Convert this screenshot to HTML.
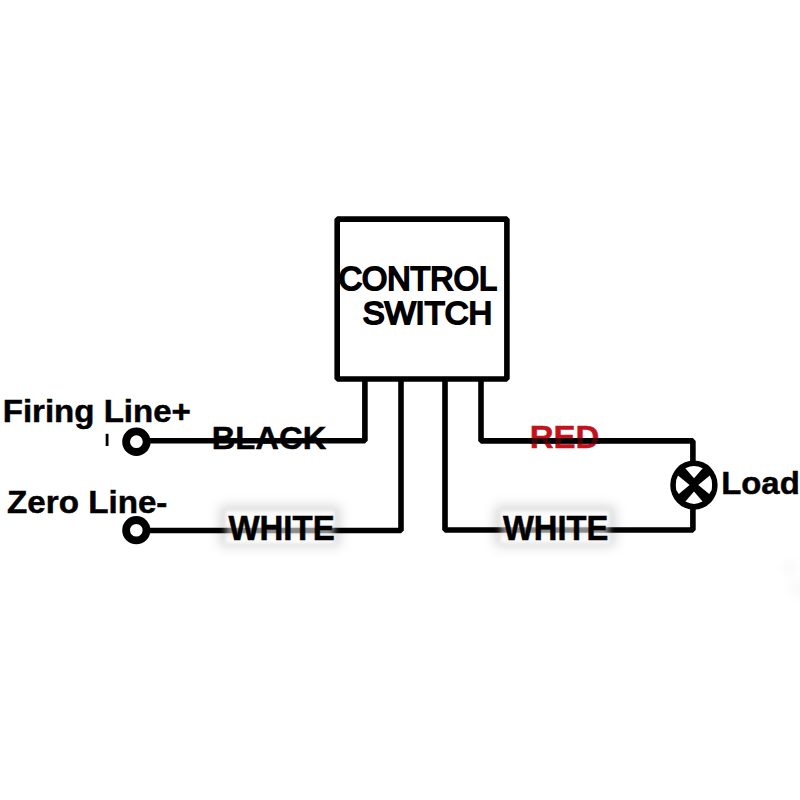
<!DOCTYPE html>
<html>
<head>
<meta charset="utf-8">
<style>
html,body{margin:0;padding:0;background:#fff;width:800px;height:800px;overflow:hidden;}
svg{position:absolute;left:0;top:0;display:block;}
text{font-family:"Liberation Sans",sans-serif;font-weight:bold;font-size:100px;stroke:currentColor;stroke-width:1.5px;}
</style>
</head>
<body>
<svg width="800" height="800" viewBox="0 0 800 800">
<defs>
<filter id="glow" x="-50%" y="-100%" width="200%" height="300%">
<feGaussianBlur stdDeviation="6"/>
</filter>
<filter id="soft2" x="-50%" y="-100%" width="200%" height="300%">
<feGaussianBlur stdDeviation="1.5"/>
</filter>
<filter id="soft" x="-50%" y="-100%" width="200%" height="300%">
<feGaussianBlur stdDeviation="3"/>
</filter>
</defs>
<rect x="0" y="0" width="800" height="800" fill="#fff"/>

<!-- faint smudges -->
<g filter="url(#glow)" fill="#000" fill-opacity="0.07">
<ellipse cx="789" cy="568" rx="5" ry="4"/>
<ellipse cx="798" cy="589" rx="5" ry="5"/>
</g>

<!-- control box -->
<rect x="337.2" y="219.1" width="169.7" height="159.9" fill="none" stroke="#000" stroke-width="5.6" stroke-linejoin="bevel"/>

<!-- wires -->
<g fill="none" stroke="#000" stroke-width="5.6" stroke-linejoin="bevel">
<polyline points="150,440.8 364.9,440.8 364.9,379"/>
<polyline points="150,530.5 401,530.5 401,379"/>
<polyline points="445,379 445,530 692.9,530 692.9,506"/>
<polyline points="481,379 481,440.9 692.9,440.9 692.9,462"/>
</g>

<!-- terminals -->
<circle cx="136.4" cy="441.7" r="10.3" fill="#fff" stroke="#000" stroke-width="7.8"/>
<circle cx="136.3" cy="530.2" r="10.2" fill="#fff" stroke="#000" stroke-width="7.8"/>
<rect x="105.7" y="433.8" width="2.8" height="12.2" fill="#000"/>

<!-- lamp -->
<ellipse cx="693.95" cy="485.1" rx="23.7" ry="24.6" fill="#000"/>
<g fill="#fff">
<polygon points="685.3,468.3 690,466.6 694,466.0 698,466.6 702.8,468.3 694,478.3"/>
<polygon points="678.0,475.6 676.2,480 675.8,485 676.2,490 678.8,494.0 689.6,484.9"/>
<polygon points="709.8,475.6 711.7,480 712.1,485 711.7,490 709.2,494.0 698.3,484.9"/>
<polygon points="694,491.6 702.6,501.6 698,503.3 694,504.0 690,503.3 685.4,501.6"/>
</g>

<!-- WHITE glows -->
<g filter="url(#glow)" fill="#000" fill-opacity="0.16">
<rect x="220" y="506" width="120" height="40"/>
<rect x="495" y="506" width="120" height="40"/>
</g>
<g filter="url(#soft)" fill="#fff" fill-opacity="0.55">
<rect x="226" y="512" width="108" height="30"/>
<rect x="501" y="512" width="108" height="30"/>
</g>
<g filter="url(#soft2)" fill="#fff" fill-opacity="0.8">
<rect x="226" y="511" width="108" height="15"/>
<rect x="226" y="535" width="108" height="8"/>
<rect x="501" y="511" width="108" height="15"/>
<rect x="501" y="534.5" width="108" height="8"/>
</g>

<!-- labels -->
<text transform="translate(2.7,421.8) scale(0.3306,0.309)">Firing Line+</text>
<text transform="translate(7,512.5) scale(0.332,0.3165)">Zero Line-</text>
<text transform="translate(211.7,448.9) scale(0.3275,0.3186)">BLACK</text>
<text transform="translate(228.4,539.9) scale(0.330,0.348)">WHITE</text>
<text transform="translate(503,539.6) scale(0.327,0.348)">WHITE</text>
<text transform="translate(529.7,448) scale(0.33,0.32)" style="fill:#c3121c;stroke:#c3121c">RED</text>
<line x1="530" y1="440.9" x2="600" y2="440.9" stroke="#000" stroke-width="5.6" stroke-opacity="0.7"/>
<text transform="translate(721.2,493.7) scale(0.329,0.315)">Load</text>
<text transform="translate(338.7,289.6) scale(0.3236,0.323)" style="font-weight:normal;stroke-width:6.5px">CONTROL</text>
<text transform="translate(362.8,324.4) scale(0.328,0.321)" style="font-weight:normal;stroke-width:6.5px">SWITCH</text>
</svg>
</body>
</html>
